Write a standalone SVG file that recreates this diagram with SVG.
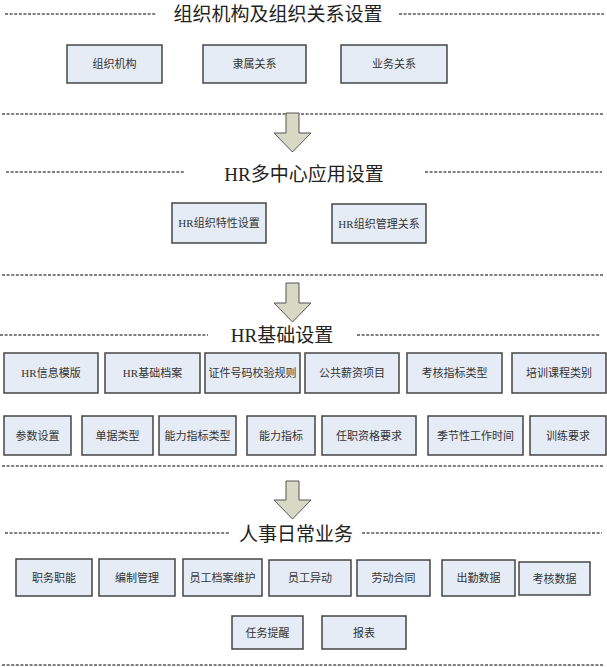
<svg xmlns="http://www.w3.org/2000/svg" width="607" height="667" viewBox="0 0 607 667">
<style>
.bg{fill:#ffffff}
.dash{stroke:#000;stroke-width:1.2;stroke-dasharray:3 1.6;fill:none}
.box{fill:#E6ECF6;stroke:#454545;stroke-width:1.5}
.lbl{font-family:"Liberation Serif","Noto Sans CJK SC",serif;font-size:11px;fill:#333;text-anchor:middle;dominant-baseline:central}
.ttl{font-family:"Liberation Serif","Noto Sans CJK SC",serif;font-size:19px;fill:#222;text-anchor:middle;dominant-baseline:central}
.arrow{fill:#D8D9C4;stroke:#555;stroke-width:1}
</style>
<rect class="bg" x="0" y="0" width="607" height="667"/>
<g id="separators">
<line class="dash" x1="5" y1="14" x2="156" y2="14"/>
<line class="dash" x1="399" y1="14" x2="604" y2="14"/>
<line class="dash" x1="2" y1="114" x2="604" y2="114"/>
<line class="dash" x1="6" y1="172" x2="185" y2="172"/>
<line class="dash" x1="425" y1="172" x2="602" y2="172"/>
<line class="dash" x1="2" y1="275" x2="604" y2="275"/>
<line class="dash" x1="0" y1="335" x2="208" y2="335"/>
<line class="dash" x1="357" y1="335" x2="600" y2="335"/>
<line class="dash" x1="2" y1="466" x2="604" y2="466"/>
<line class="dash" x1="5" y1="533" x2="230" y2="533"/>
<line class="dash" x1="362" y1="533" x2="602" y2="533"/>
<line class="dash" x1="2" y1="665" x2="604" y2="665"/>
</g>
<g id="titles">
<text class="ttl" x="278" y="14">组织机构及组织关系设置</text>
<text class="ttl" x="304" y="174">HR多中心应用设置</text>
<text class="ttl" x="282" y="335">HR基础设置</text>
<text class="ttl" x="296" y="534">人事日常业务</text>
</g>
<g id="connectors">
<path class="arrow" d="M286,113 H299 V133 H311 L292.5,152 L274,133 H286 Z"/>
<path class="arrow" d="M286,283 H299 V303 H311 L292.5,322 L274,303 H286 Z"/>
<path class="arrow" d="M286,481 H299 V500 H311 L292.5,519 L274,500 H286 Z"/>
</g>
<g id="n1"><rect class="box" x="67" y="45" width="95" height="38"/><text class="lbl" x="114.5" y="64">组织机构</text></g>
<g id="n2"><rect class="box" x="203" y="45" width="103" height="38"/><text class="lbl" x="254.5" y="64">隶属关系</text></g>
<g id="n3"><rect class="box" x="341" y="45" width="106" height="38"/><text class="lbl" x="394" y="64">业务关系</text></g>
<g id="n4"><rect class="box" x="172" y="203" width="94" height="40"/><text class="lbl" x="219" y="223">HR组织特性设置</text></g>
<g id="n5"><rect class="box" x="332" y="204" width="94" height="39"/><text class="lbl" x="379" y="223.5">HR组织管理关系</text></g>
<g id="n6"><rect class="box" x="4" y="353" width="94" height="40"/><text class="lbl" x="51" y="373">HR信息模版</text></g>
<g id="n7"><rect class="box" x="105" y="353" width="95" height="40"/><text class="lbl" x="152.5" y="373">HR基础档案</text></g>
<g id="n8"><rect class="box" x="205" y="353" width="95" height="40"/><text class="lbl" x="252.5" y="373">证件号码校验规则</text></g>
<g id="n9"><rect class="box" x="305" y="353" width="94" height="40"/><text class="lbl" x="352" y="373">公共薪资项目</text></g>
<g id="n10"><rect class="box" x="407" y="353" width="95" height="40"/><text class="lbl" x="454.5" y="373">考核指标类型</text></g>
<g id="n11"><rect class="box" x="512" y="353" width="94" height="40"/><text class="lbl" x="559" y="373">培训课程类别</text></g>
<g id="n12"><rect class="box" x="4" y="416" width="67" height="39"/><text class="lbl" x="37.5" y="435.5">参数设置</text></g>
<g id="n13"><rect class="box" x="82" y="416" width="71" height="39"/><text class="lbl" x="117.5" y="435.5">单据类型</text></g>
<g id="n14"><rect class="box" x="159" y="416" width="77" height="39"/><text class="lbl" x="197.5" y="435.5">能力指标类型</text></g>
<g id="n15"><rect class="box" x="247" y="416" width="68" height="39"/><text class="lbl" x="281" y="435.5">能力指标</text></g>
<g id="n16"><rect class="box" x="322" y="416" width="94" height="39"/><text class="lbl" x="369" y="435.5">任职资格要求</text></g>
<g id="n17"><rect class="box" x="428" y="416" width="95" height="39"/><text class="lbl" x="475.5" y="435.5">季节性工作时间</text></g>
<g id="n18"><rect class="box" x="530" y="416" width="76" height="39"/><text class="lbl" x="568" y="435.5">训练要求</text></g>
<g id="n19"><rect class="box" x="16" y="559" width="76" height="37"/><text class="lbl" x="54" y="577.5">职务职能</text></g>
<g id="n20"><rect class="box" x="99" y="559" width="76" height="37"/><text class="lbl" x="137" y="577.5">编制管理</text></g>
<g id="n21"><rect class="box" x="183" y="559" width="79" height="37"/><text class="lbl" x="222.5" y="577.5">员工档案维护</text></g>
<g id="n22"><rect class="box" x="269" y="560" width="82" height="36"/><text class="lbl" x="310" y="578">员工异动</text></g>
<g id="n23"><rect class="box" x="357" y="560" width="73" height="36"/><text class="lbl" x="393.5" y="578">劳动合同</text></g>
<g id="n24"><rect class="box" x="442" y="560" width="73" height="36"/><text class="lbl" x="478.5" y="578">出勤数据</text></g>
<g id="n25"><rect class="box" x="519" y="562" width="71" height="33"/><text class="lbl" x="554.5" y="578.5">考核数据</text></g>
<g id="n26"><rect class="box" x="232" y="616" width="71" height="33"/><text class="lbl" x="267.5" y="632.5">任务提醒</text></g>
<g id="n27"><rect class="box" x="322" y="616" width="84" height="33"/><text class="lbl" x="364" y="632.5">报表</text></g>
</svg>
